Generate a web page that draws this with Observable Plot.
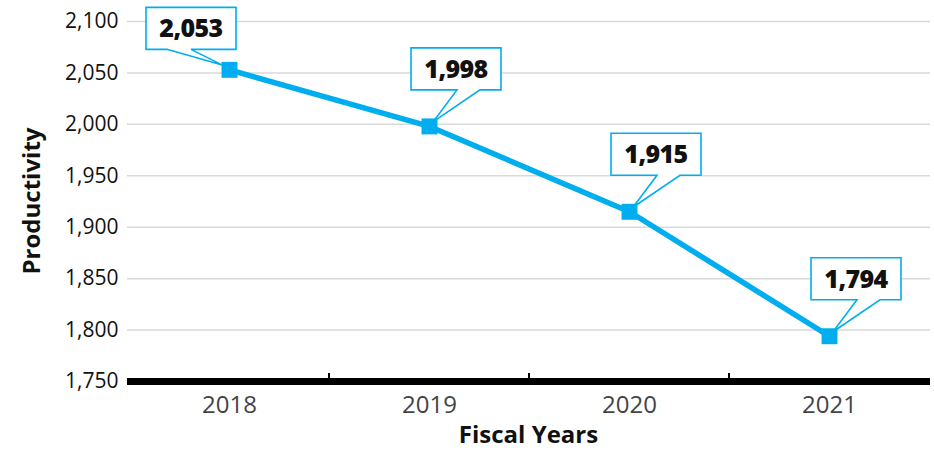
<!DOCTYPE html>
<html>
<head>
<meta charset="utf-8">
<script src="https://cdn.jsdelivr.net/npm/d3@7"></script>
<script src="https://cdn.jsdelivr.net/npm/@observablehq/plot@0.6"></script>
<style>
  html, body { margin: 0; padding: 0; background: #fff; }
  #chart svg { display: block; font-family: "Open Sans", sans-serif; }
</style>
</head>
<body>
<div id="chart"></div>
<script>
const years = ["2018", "2019", "2020", "2021"];
const productivity = [2053, 1998, 1915, 1794];
const yTicks = [1750, 1800, 1850, 1900, 1950, 2000, 2050, 2100];
const xTitle = "Fiscal Years";
const yTitle = "Productivity";

const data = years.map((y, i) => ({year: y, value: productivity[i]}));
const blue = "#00aeef";
const fmt = d3.format(",");

// callout boxes with tails pointing to each data point
function callouts(index, scales, values, dimensions) {
  const g = d3.create("svg:g");
  data.forEach((d, i) => {
    const px = scales.x(d.year), py = scales.y(d.value);
    const w = 90, h = 42;
    let L, B, t1, t2, tx;
    if (i === 0) { L = px - 83; B = py - 20; t1 = px - 62; t2 = px - 38; tx = px - 6; }
    else { L = px - 18; B = py - 36; t1 = px + 28; t2 = px + 51; tx = px + 4; }
    const R = L + w, T = B - h, ty = py - 4;
    const path = `M${L},${T}H${R}V${B}H${t2}L${tx},${ty}L${t1},${B}H${L}Z`;
    g.append("path").attr("d", path).attr("fill", "white")
      .attr("stroke", blue).attr("stroke-width", 1.6).attr("stroke-linejoin", "miter");
    g.append("text").attr("x", (L + R) / 2).attr("y", T + h / 2 + 9)
      .attr("text-anchor", "middle").attr("font-size", 25).attr("font-weight", 800)
      .attr("letter-spacing", -0.6).attr("fill", "#111").text(fmt(d.value));
  });
  return g.node();
}

// small ticks on the baseline between categories
function boundaryTicks(index, scales, values, dimensions) {
  const g = d3.create("svg:g");
  const y0 = scales.y(1750);
  for (let i = 1; i < years.length; i++) {
    const x = (scales.x(years[i - 1]) + scales.x(years[i])) / 2;
    g.append("line").attr("x1", x).attr("x2", x).attr("y1", y0 - 8).attr("y2", y0)
      .attr("stroke", "#000").attr("stroke-width", 2);
  }
  return g.node();
}

// axis titles
function titles(index, scales, values, dimensions) {
  const {width, height, marginLeft, marginRight, marginTop, marginBottom} = dimensions;
  const g = d3.create("svg:g").attr("font-size", 24).attr("font-weight", "bold").attr("fill", "#111")
    .attr("text-anchor", "middle");
  const cx = (marginLeft + width - marginRight) / 2;
  const cy = (marginTop + height - marginBottom) / 2;
  g.append("text").attr("x", cx).attr("y", height - 10).text(xTitle);
  g.append("text").attr("transform", `translate(40,${cy}) rotate(-90)`).text(yTitle);
  return g.node();
}

const chart = Plot.plot({
  width: 934,
  height: 453,
  marginLeft: 127,
  marginRight: 4,
  marginTop: 21,
  marginBottom: 72,
  x: {type: "point", domain: years, padding: 0.5},
  y: {domain: [1750, 2100]},
  marks: [
    Plot.ruleY(yTicks.filter(t => t !== 1750), {stroke: "#d9d9d9", strokeWidth: 1.5}),
    Plot.ruleY([1750], {stroke: "#000", strokeWidth: 7}),
    boundaryTicks,
    Plot.axisY({ticks: yTicks, tickSize: 0, tickPadding: 9, tickFormat: fmt, fontSize: 21,
      fill: "#111", label: null, style: {letterSpacing: "-1px"}}),
    Plot.axisX({tickSize: 0, tickPadding: 14, fontSize: 24, fill: "#444", label: null}),
    titles,
    Plot.line(data, {x: "year", y: "value", stroke: blue, strokeWidth: 5.5}),
    callouts,
    Plot.dot(data, {x: "year", y: "value", symbol: "square", r: 9, fill: blue, stroke: "none"})
  ]
});
document.getElementById("chart").appendChild(chart);
</script>
</body>
</html>
